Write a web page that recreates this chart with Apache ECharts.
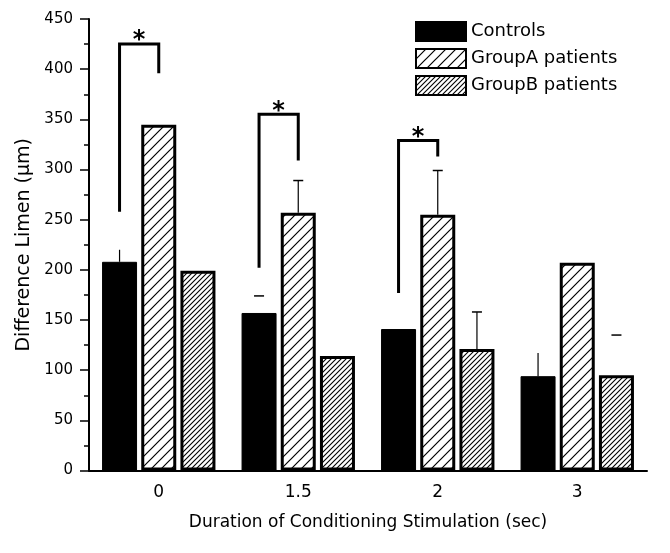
<!DOCTYPE html>
<html>
<head>
<meta charset="utf-8">
<script src="https://cdn.jsdelivr.net/npm/echarts@6/dist/echarts.min.js"></script>
<style>
  html, body { margin: 0; padding: 0; background: #fff; }
  #main { width: 670px; height: 553px; }
</style>
</head>
<body>
<div id="main"></div>
<script>
  // data
  const categories = ['0', '1.5', '2', '3']
  const controls = [208, 157, 141, 94]
  const groupA = [344.5, 257, 255, 207]
  const groupB = [199, 114, 121, 95]
  // [category, series, upper value, style]  style: full = stem + cap, stem = no cap, cap = cap only
  const errorBars = [
    [0, 0, 220, 'stem'], [1, 0, 174, 'cap'], [3, 0, 117, 'stem'],
    [1, 1, 289, 'full'], [2, 1, 299, 'full'],
    [2, 2, 158, 'full'], [3, 2, 135, 'cap']
  ]
  // [category, left leg bottom, top, right leg bottom]
  const brackets = [
    [0, 258, 425, 396],
    [1, 202, 355, 309],
    [2, 177, 329, 313]
  ]
  const seriesValues = [controls, groupA, groupB]

  const FONT = 'DejaVu Sans'
  const BAR_W = 35
  const BAR_GAP = 0.12

  // hatch fill: "/" lines with given spacing
  function hatch (step, lw) {
    const c = document.createElement('canvas')
    c.width = step
    c.height = step
    const ctx = c.getContext('2d')
    ctx.fillStyle = '#fff'
    ctx.fillRect(0, 0, step, step)
    ctx.strokeStyle = '#000'
    ctx.lineWidth = lw
    ctx.beginPath()
    ctx.moveTo(-1, step + 1); ctx.lineTo(step + 1, -1)
    ctx.moveTo(-2, 2); ctx.lineTo(2, -2)
    ctx.moveTo(step - 2, step + 2); ctx.lineTo(step + 2, step - 2)
    ctx.stroke()
    return c
  }

  function offsetOf (seriesIdx) {
    return (seriesIdx - 1) * BAR_W * (1 + BAR_GAP)
  }

  const chart = echarts.init(document.getElementById('main'))

  chart.setOption({
    animation: false,
    backgroundColor: '#fff',
    textStyle: { fontFamily: FONT, color: '#000' },
    grid: { left: 89, right: 23, top: 19, bottom: 82.5 },
    legend: {
      orient: 'vertical',
      left: 410,
      top: 16,
      icon: 'rect',
      itemWidth: 50,
      itemHeight: 19,
      itemGap: 6,
      textStyle: { fontFamily: FONT, fontSize: 18, color: '#000' },
      data: ['Controls', 'GroupA patients', 'GroupB patients']
    },
    xAxis: {
      type: 'category',
      data: categories,
      name: 'Duration of Conditioning Stimulation (sec)',
      nameLocation: 'middle',
      nameGap: 44,
      nameTextStyle: { fontFamily: FONT, fontSize: 17, color: '#000' },
      axisLine: { lineStyle: { color: '#000', width: 2 } },
      axisTick: { show: false },
      axisLabel: { fontFamily: FONT, fontSize: 17, color: '#000', margin: 14 }
    },
    yAxis: {
      type: 'value',
      min: 0,
      max: 450,
      interval: 50,
      name: 'Difference Limen (\u03bcm)',
      nameLocation: 'middle',
      nameGap: 55,
      nameTextStyle: { fontFamily: FONT, fontSize: 19, color: '#000' },
      axisLine: { show: true, lineStyle: { color: '#000', width: 2 } },
      axisTick: { show: true, length: 9, lineStyle: { color: '#000', width: 1.5 } },
      minorTick: { show: true, splitNumber: 2, length: 5, lineStyle: { color: '#000', width: 1.5 } },
      splitLine: { show: false },
      axisLabel: { fontFamily: FONT, fontSize: 15, color: '#000', margin: 16 }
    },
    series: [
      {
        name: 'Controls',
        type: 'bar',
        barWidth: BAR_W,
        barGap: (BAR_GAP * 100) + '%',
        data: controls,
        itemStyle: { color: '#000', borderColor: '#000', borderWidth: 1 }
      },
      {
        name: 'GroupA patients',
        type: 'bar',
        barWidth: BAR_W,
        data: groupA,
        itemStyle: { color: { image: hatch(10, 1.2), repeat: 'repeat' }, borderColor: '#000', borderWidth: 3 }
      },
      {
        name: 'GroupB patients',
        type: 'bar',
        barWidth: BAR_W,
        data: groupB,
        itemStyle: { color: { image: hatch(5, 1.1), repeat: 'repeat' }, borderColor: '#000', borderWidth: 3 }
      },
      {
        // error bars
        type: 'custom',
        z: 5,
        silent: true,
        data: errorBars.map(e => [e[0], e[1], e[2], seriesValues[e[1]][e[0]], e[3]]),
        encode: { x: 0, y: 2 },
        renderItem: function (params, api) {
          const cat = api.value(0)
          const s = api.value(1)
          const top = api.coord([cat, api.value(2)])
          const base = api.coord([cat, api.value(3)])
          const x = top[0] + offsetOf(s)
          const style = errorBars[params.dataIndex][3]
          const children = []
          const ls = { stroke: '#000', lineWidth: 1.2 }
          if (style !== 'cap') {
            children.push({ type: 'line', shape: { x1: x, y1: base[1], x2: x, y2: top[1] }, style: ls })
          }
          if (style !== 'stem') {
            children.push({ type: 'line', shape: { x1: x - 5, y1: top[1], x2: x + 5, y2: top[1] }, style: { stroke: '#000', lineWidth: 1.5 } })
          }
          return { type: 'group', children: children }
        }
      },
      {
        // significance brackets
        type: 'custom',
        z: 6,
        silent: true,
        data: brackets,
        encode: { x: 0, y: 2 },
        renderItem: function (params, api) {
          const cat = api.value(0)
          const pl = api.coord([cat, api.value(1)])
          const pt = api.coord([cat, api.value(2)])
          const pr = api.coord([cat, api.value(3)])
          const xl = pt[0] + offsetOf(0)
          const xr = pt[0] + offsetOf(1)
          return {
            type: 'group',
            children: [
              {
                type: 'polyline',
                shape: { points: [[xl, pl[1]], [xl, pt[1]], [xr, pt[1]], [xr, pr[1]]] },
                style: { stroke: '#000', lineWidth: 3, fill: null, lineJoin: 'miter' }
              },
              {
                type: 'text',
                x: (xl + xr) / 2,
                y: pt[1] - 3,
                style: {
                  text: '*',
                  fontSize: 24,
                  fontWeight: 'bold',
                  fontFamily: FONT,
                  fill: '#000',
                  align: 'center',
                  verticalAlign: 'middle'
                }
              }
            ]
          }
        }
      }
    ]
  })
</script>
</body>
</html>
